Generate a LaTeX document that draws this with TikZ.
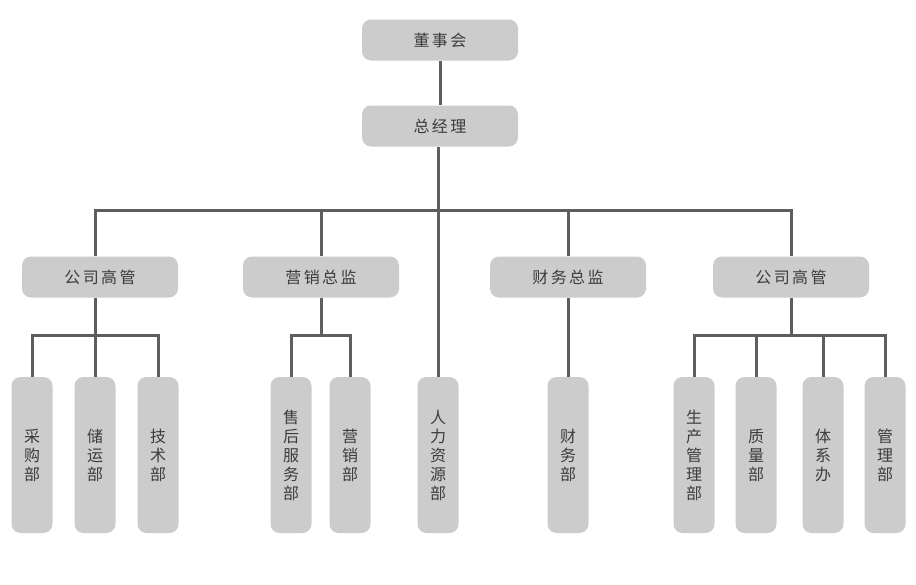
\documentclass[tikz,border=0pt]{standalone}
\usepackage{fontspec}
\setmainfont{Noto Sans CJK SC}[LetterSpace=15]
\usetikzlibrary{calc, positioning}
\definecolor{boxgray}{HTML}{CCCCCC}
\definecolor{linegray}{HTML}{5E5E5E}
\definecolor{txtgray}{HTML}{3C3C3C}

\begin{document}
\begin{tikzpicture}[x=1pt, y=-1pt,
  conn/.style={draw=linegray, line width=3pt},
  head/.style={fill=boxgray, rounded corners=9pt, minimum width=156pt, minimum height=41pt,
    text=txtgray, font=\fontsize{16}{18}\selectfont, inner sep=0pt},
  dept/.style={fill=boxgray, rounded corners=9pt, minimum width=41pt, minimum height=156pt,
    text=txtgray, font=\fontsize{16}{19}\selectfont, align=center, inner sep=0pt}]
\useasboundingbox (0,0) rectangle (916,584);
% top of the tree
\node[head] (dsh) at (440,40) {董事会};
\node[head] (zjl) at (440,126) {总经理};
\node[head] (gsl) at (100,277) {公司高管};
\node[head] (yx) at (321,277) {营销总监};
\node[head] (cw) at (568,277) {财务总监};
\node[head] (gsr) at (791,277) {公司高管};
% departments
\foreach \n/\x/\t in {cg/32/{采\\购\\部}, cy/95/{储\\运\\部}, js/158/{技\\术\\部},
    sh/291/{售\\后\\服\\务\\部}, yxb/350/{营\\销\\部}, rl/438/{人\\力\\资\\源\\部},
    cwb/568/{财\\务\\部}, sc/694/{生\\产\\管\\理\\部}, zl/756/{质\\量\\部},
    tx/823/{体\\系\\办}, gl/885/{管\\理\\部}} {
  \node[dept] (\n) at (\x,455) {\t};
}
\coordinate (bar) at (0,210);
\coordinate (sub) at (0,335);
% connectors
\draw[conn] (dsh) -- (zjl);
\draw[conn] (rl.north) -- (rl.north |- zjl.south);
\draw[conn] (gsl.north -| cy.north) |- (bar -| gsr.north) -- (gsr.north);
\draw[conn] (yx.north) -- (yx.north |- bar);
\draw[conn] (cw.north) -- (cw.north |- bar);
\draw[conn] (cg.north) |- (sub -| js.north) -- (js.north);
\draw[conn] (cy.north) -- (cy.north |- gsl.south);
\draw[conn] (sh.north) |- (sub -| yxb.north) -- (yxb.north);
\draw[conn] (yx.south) -- (yx.south |- sub);
\draw[conn] (cwb.north) -- (cw.south);
\draw[conn] (sc.north) |- (sub -| gl.north) -- (gl.north);
\draw[conn] (gsr.south) -- (gsr.south |- sub);
\draw[conn] (zl.north) -- (zl.north |- sub);
\draw[conn] (tx.north) -- (tx.north |- sub);
\end{tikzpicture}
\end{document}
